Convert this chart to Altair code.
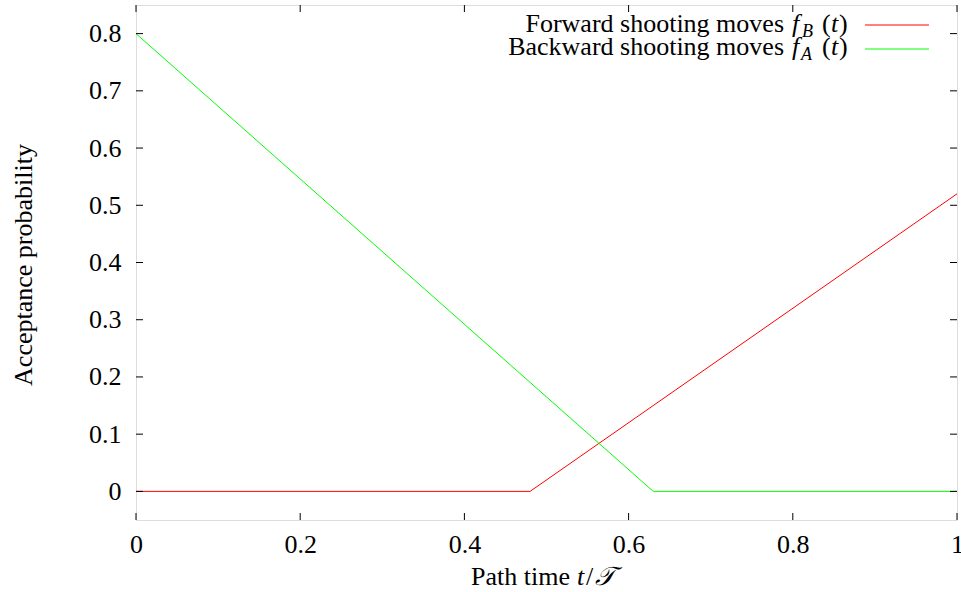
import altair as alt
import pandas as pd

# Acceptance probability of forward / backward shooting moves versus path time
fwd_t = [0.0, 0.48, 1.0]
fwd_p = [0.0, 0.0, 0.52]
bwd_t = [0.0, 0.63, 1.0]
bwd_p = [0.8, 0.0, 0.0]

x_ticks = [0, 0.2, 0.4, 0.6, 0.8, 1]
y_ticks = [0, 0.1, 0.2, 0.3, 0.4, 0.5, 0.6, 0.7, 0.8]

FONT = "Liberation Serif"
FS = 26
W, H = 821, 515
RED = "#ff0000"
GREEN = "#00ff00"

df = pd.concat([
    pd.DataFrame({"t": fwd_t, "p": fwd_p, "series": "fwd", "order": range(len(fwd_t))}),
    pd.DataFrame({"t": bwd_t, "p": bwd_p, "series": "bwd", "order": range(len(bwd_t))}),
])

xs = alt.Scale(domain=[0, 1], nice=False, zero=False)
ys = alt.Scale(domain=[-0.05, 0.85], nice=False, zero=False)

x_axis = alt.Axis(values=x_ticks, format="~g", title=None, ticks=False, domain=False,
                  grid=False, labelFont=FONT, labelFontSize=FS, labelColor="black",
                  labelPadding=11, labelFlush=False, labelOverlap=False)
y_axis = alt.Axis(values=y_ticks, format="~g", title=None, ticks=False, domain=False,
                  grid=False, labelFont=FONT, labelFontSize=FS, labelColor="black",
                  labelPadding=15, labelOverlap=False)

lines = alt.Chart(df).mark_line(strokeWidth=1, clip=True).encode(
    x=alt.X("t:Q", scale=xs, axis=x_axis),
    y=alt.Y("p:Q", scale=ys, axis=y_axis),
    color=alt.Color("series:N", scale=alt.Scale(domain=["fwd", "bwd"], range=[RED, GREEN]),
                    legend=None),
    order="order:Q",
)

# inward tick marks on all four sides (mirrored)
xt = pd.DataFrame({"t": x_ticks})
yt = pd.DataFrame({"p": y_ticks})
tick_style = dict(color="black", strokeWidth=1)
ticks = [
    alt.Chart(xt).mark_rule(**tick_style).encode(x=alt.X("t:Q", scale=xs), y=alt.value(H), y2=alt.value(H - 7)),
    alt.Chart(xt).mark_rule(**tick_style).encode(x=alt.X("t:Q", scale=xs), y=alt.value(0), y2=alt.value(7)),
    alt.Chart(yt).mark_rule(**tick_style).encode(y=alt.Y("p:Q", scale=ys), x=alt.value(0), x2=alt.value(7)),
    alt.Chart(yt).mark_rule(**tick_style).encode(y=alt.Y("p:Q", scale=ys), x=alt.value(W), x2=alt.value(W - 7)),
]

one = pd.DataFrame({"k": [0]})


def label(text, x, y, size=FS, italic=False, align="left", angle=None):
    kw = dict(text=text, align=align, baseline="alphabetic", font=FONT, fontSize=size,
              color="black")
    if italic:
        kw["fontStyle"] = "italic"
    if angle is not None:
        kw["angle"] = angle
    return alt.Chart(one).mark_text(**kw).encode(x=alt.value(x), y=alt.value(y))


texts = [
    # y-axis title
    label("Acceptance probability", -104, 260, align="center", angle=270),
    # x-axis title: Path time t/T
    label("Path time", 434, 580, align="right"),
    label("t", 441, 580, italic=True),
    label("/", 450, 580),
    label("𝒯", 459, 580, italic=True),
    # key entries
    label("Forward shooting moves", 648, 27, align="right"),
    label("f", 656, 27, italic=True),
    label("B", 666, 32, size=18, italic=True),
    label("(", 686, 27),
    label("t", 695, 27, italic=True),
    label(")", 703, 27),
    label("Backward shooting moves", 648, 50, align="right"),
    label("f", 656, 50, italic=True),
    label("A", 665, 55, size=18, italic=True),
    label("(", 686, 50),
    label("t", 695, 50, italic=True),
    label(")", 703, 50),
]

key_lines = [
    alt.Chart(one).mark_rule(color=RED, strokeWidth=1).encode(
        x=alt.value(729), x2=alt.value(793), y=alt.value(20)),
    alt.Chart(one).mark_rule(color=GREEN, strokeWidth=1).encode(
        x=alt.value(729), x2=alt.value(793), y=alt.value(44)),
]

chart = alt.layer(lines, *ticks, *texts, *key_lines).properties(
    width=W, height=H,
    autosize=alt.AutoSizeParams(type="none"),
    padding={"left": 136, "top": 5, "right": 4, "bottom": 72},
).configure_view(stroke="black", strokeWidth=1.3).configure(background="white")

chart.save("out.html", embed_options={"renderer": "svg", "actions": False})
